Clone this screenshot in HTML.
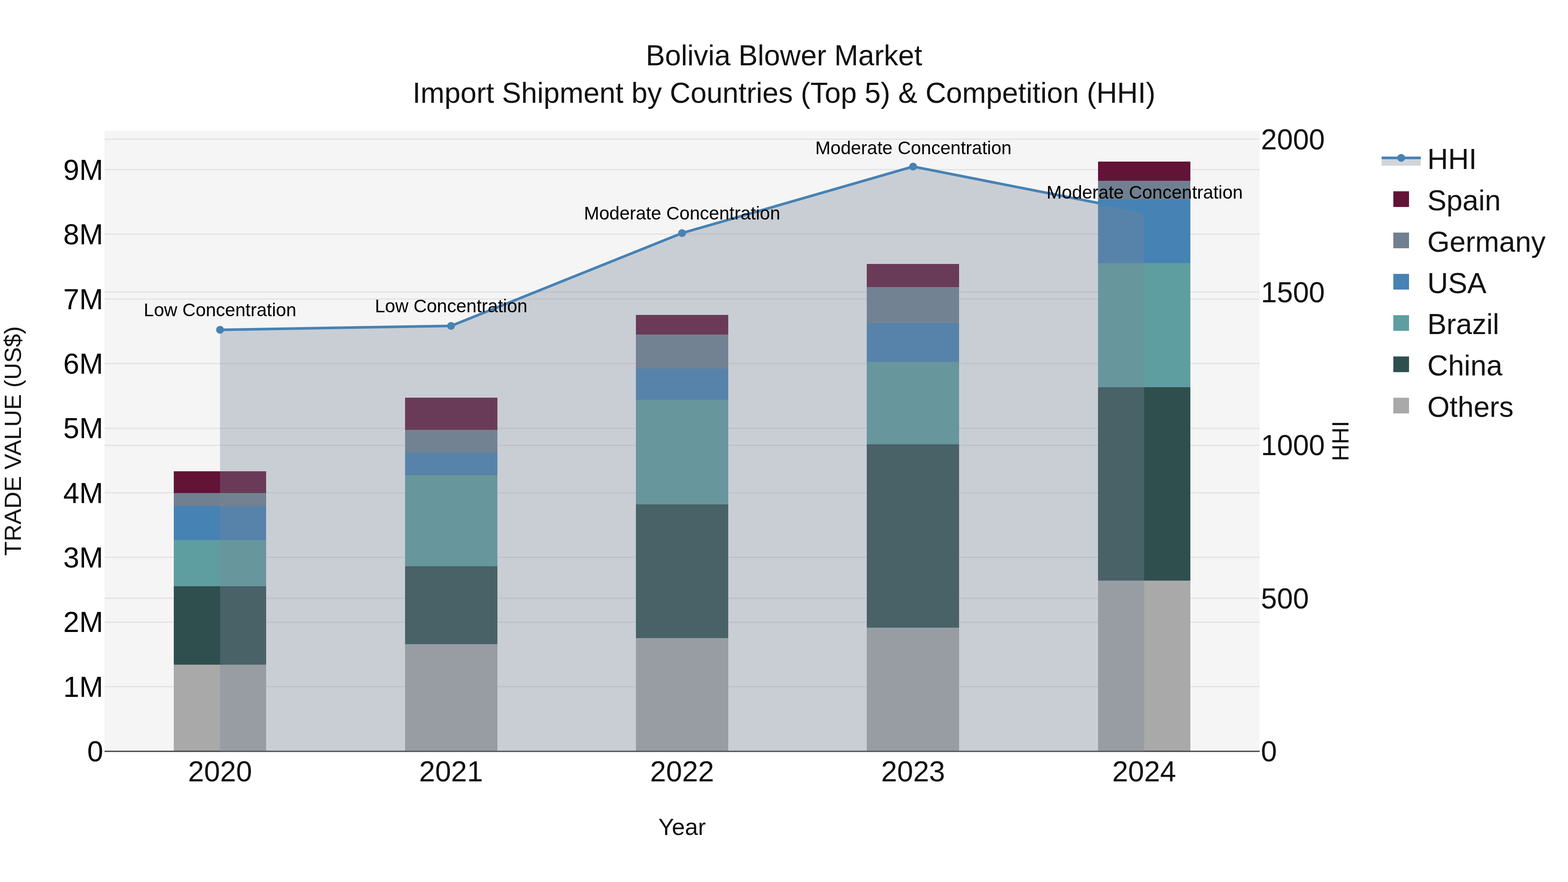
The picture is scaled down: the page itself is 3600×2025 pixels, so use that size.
<!DOCTYPE html>
<html lang="en"><head><meta charset="utf-8"><title>Bolivia Blower Market</title>
<style>html,body{margin:0;padding:0;background:#fff;}body{width:3600px;height:2025px;overflow:hidden;}svg{display:block;}text{font-family:"Liberation Sans",Arial,sans-serif;white-space:pre;}</style>
</head><body>
<svg xmlns="http://www.w3.org/2000/svg" width="3600" height="2025" viewBox="0 0 3600 2025">
<rect x="0" y="0" width="3600" height="2025" fill="#ffffff"/>
<rect x="240" y="300" width="2652" height="1425" fill="#f5f5f5"/>
<g fill="#e4e4e4" shape-rendering="crispEdges">
<rect x="240" y="1575" width="2652" height="3"/>
<rect x="240" y="1427" width="2652" height="3"/>
<rect x="240" y="1278" width="2652" height="3"/>
<rect x="240" y="1130" width="2652" height="3"/>
<rect x="240" y="982" width="2652" height="3"/>
<rect x="240" y="833" width="2652" height="3"/>
<rect x="240" y="685" width="2652" height="3"/>
<rect x="240" y="536" width="2652" height="3"/>
<rect x="240" y="388" width="2652" height="3"/>
<rect x="240" y="1372" width="2652" height="3"/>
<rect x="240" y="1021" width="2652" height="3"/>
<rect x="240" y="669" width="2652" height="3"/>
<rect x="240" y="318" width="2652" height="3"/>
</g>
<g shape-rendering="crispEdges">
<rect x="399" y="1526" width="212" height="199" fill="#a9a9a9"/>
<rect x="399" y="1346" width="212" height="180" fill="#2f4f4f"/>
<rect x="399" y="1240" width="212" height="106" fill="#5f9ea0"/>
<rect x="399" y="1162" width="212" height="78" fill="#4682b4"/>
<rect x="399" y="1132" width="212" height="30" fill="#708090"/>
<rect x="399" y="1082" width="212" height="50" fill="#631336"/>
<rect x="930" y="1479" width="212" height="246" fill="#a9a9a9"/>
<rect x="930" y="1300" width="212" height="179" fill="#2f4f4f"/>
<rect x="930" y="1090.7" width="212" height="209.3" fill="#5f9ea0"/>
<rect x="930" y="1039" width="212" height="51.7" fill="#4682b4"/>
<rect x="930" y="986.8" width="212" height="52.2" fill="#708090"/>
<rect x="930" y="913.2" width="212" height="73.6" fill="#631336"/>
<rect x="1460" y="1465" width="212" height="260" fill="#a9a9a9"/>
<rect x="1460" y="1158" width="212" height="307" fill="#2f4f4f"/>
<rect x="1460" y="917.8" width="212" height="240.2" fill="#5f9ea0"/>
<rect x="1460" y="846" width="212" height="71.8" fill="#4682b4"/>
<rect x="1460" y="767.8" width="212" height="78.2" fill="#708090"/>
<rect x="1460" y="723.1" width="212" height="44.7" fill="#631336"/>
<rect x="1990" y="1441" width="212" height="284" fill="#a9a9a9"/>
<rect x="1990" y="1020" width="212" height="421" fill="#2f4f4f"/>
<rect x="1990" y="831" width="212" height="189" fill="#5f9ea0"/>
<rect x="1990" y="741.7" width="212" height="89.3" fill="#4682b4"/>
<rect x="1990" y="658.8" width="212" height="82.9" fill="#708090"/>
<rect x="1990" y="606.1" width="212" height="52.7" fill="#631336"/>
<rect x="2521" y="1333" width="212" height="392" fill="#a9a9a9"/>
<rect x="2521" y="889" width="212" height="444" fill="#2f4f4f"/>
<rect x="2521" y="604" width="212" height="285" fill="#5f9ea0"/>
<rect x="2521" y="458" width="212" height="146" fill="#4682b4"/>
<rect x="2521" y="415" width="212" height="43" fill="#708090"/>
<rect x="2521" y="371" width="212" height="44" fill="#631336"/>
</g>
<path d="M240,1725H2892" stroke="#444444" stroke-width="3" fill="none"/>
<path d="M505.2,1725 L505.2,757.2 L1035.6,748.2 L1566.0,535.2 L2096.4,382.4 L2626.8,486.8 L2626.8,1725 Z" fill="rgba(119,136,153,0.35)" stroke="none"/>
<path d="M505.2,757.2 L1035.6,748.2 L1566.0,535.2 L2096.4,382.4 L2626.8,486.8" fill="none" stroke="#4682b4" stroke-width="6" stroke-linejoin="round"/>
<circle cx="505.2" cy="757.2" r="9" fill="#4682b4"/>
<circle cx="1035.6" cy="748.2" r="9" fill="#4682b4"/>
<circle cx="1566.0" cy="535.2" r="9" fill="#4682b4"/>
<circle cx="2096.4" cy="382.4" r="9" fill="#4682b4"/>
<circle cx="2626.8" cy="486.8" r="9" fill="#4682b4"/>
<g font-size="42" fill="#000000" text-anchor="middle">
<text x="505.2" y="726.2">Low Concentration</text>
<text x="1035.8" y="717.2">Low Concentration</text>
<text x="1566.0" y="504.2">Moderate Concentration</text>
<text x="2097.1" y="354.3">Moderate Concentration</text>
<text x="2628.1" y="456.0">Moderate Concentration</text>
</g>
<g font-size="66" fill="#000000" text-anchor="end">
<text x="237" y="1748.1">0</text>
<text x="237" y="1599.7">1M</text>
<text x="237" y="1451.3">2M</text>
<text x="237" y="1303.0">3M</text>
<text x="237" y="1154.6">4M</text>
<text x="237" y="1006.2">5M</text>
<text x="237" y="857.9">6M</text>
<text x="237" y="709.5">7M</text>
<text x="237" y="561.1">8M</text>
<text x="237" y="412.7">9M</text>
</g>
<g font-size="66" fill="#111111" text-anchor="start">
<text x="2895" y="1748.1">0</text>
<text x="2895" y="1396.7">500</text>
<text x="2895" y="1045.3">1000</text>
<text x="2895" y="694.0">1500</text>
<text x="2895" y="342.6">2000</text>
</g>
<g font-size="66" fill="#111111" text-anchor="middle">
<text x="505.2" y="1794">2020</text>
<text x="1035.6" y="1794">2021</text>
<text x="1566.0" y="1794">2022</text>
<text x="2096.4" y="1794">2023</text>
<text x="2626.8" y="1794">2024</text>
</g>
<g font-size="54" fill="#111111" text-anchor="middle">
<text x="1566" y="1917">Year</text>
<text transform="translate(47.7,1012.5) rotate(-90)">TRADE VALUE (US$)</text>
<text transform="translate(3096,1012.5) rotate(-90)">HHI</text>
</g>
<g font-size="66" fill="#111111" text-anchor="middle">
<text x="1800" y="149.8">Bolivia Blower Market</text>
<text x="1800" y="235.9">Import Shipment by Countries (Top 5) &amp; Competition (HHI)</text>
</g>
<g>
<rect x="3172" y="362.4" width="90" height="18" fill="rgba(119,136,153,0.35)"/>
<path d="M3172,362.4H3262" stroke="#4682b4" stroke-width="6" fill="none"/>
<circle cx="3217" cy="362.4" r="9" fill="#4682b4"/>
<text x="3277" y="388.1" font-size="66" fill="#111111">HHI</text>
<rect x="3199" y="439.2" width="36" height="36" fill="#631336"/>
<text x="3277" y="482.9" font-size="66" fill="#111111">Spain</text>
<rect x="3199" y="534.0" width="36" height="36" fill="#708090"/>
<text x="3277" y="577.7" font-size="66" fill="#111111">Germany</text>
<rect x="3199" y="628.8" width="36" height="36" fill="#4682b4"/>
<text x="3277" y="672.5" font-size="66" fill="#111111">USA</text>
<rect x="3199" y="723.6" width="36" height="36" fill="#5f9ea0"/>
<text x="3277" y="767.3" font-size="66" fill="#111111">Brazil</text>
<rect x="3199" y="818.4" width="36" height="36" fill="#2f4f4f"/>
<text x="3277" y="862.1" font-size="66" fill="#111111">China</text>
<rect x="3199" y="913.2" width="36" height="36" fill="#a9a9a9"/>
<text x="3277" y="956.9" font-size="66" fill="#111111">Others</text>
</g>
</svg>
</body></html>
